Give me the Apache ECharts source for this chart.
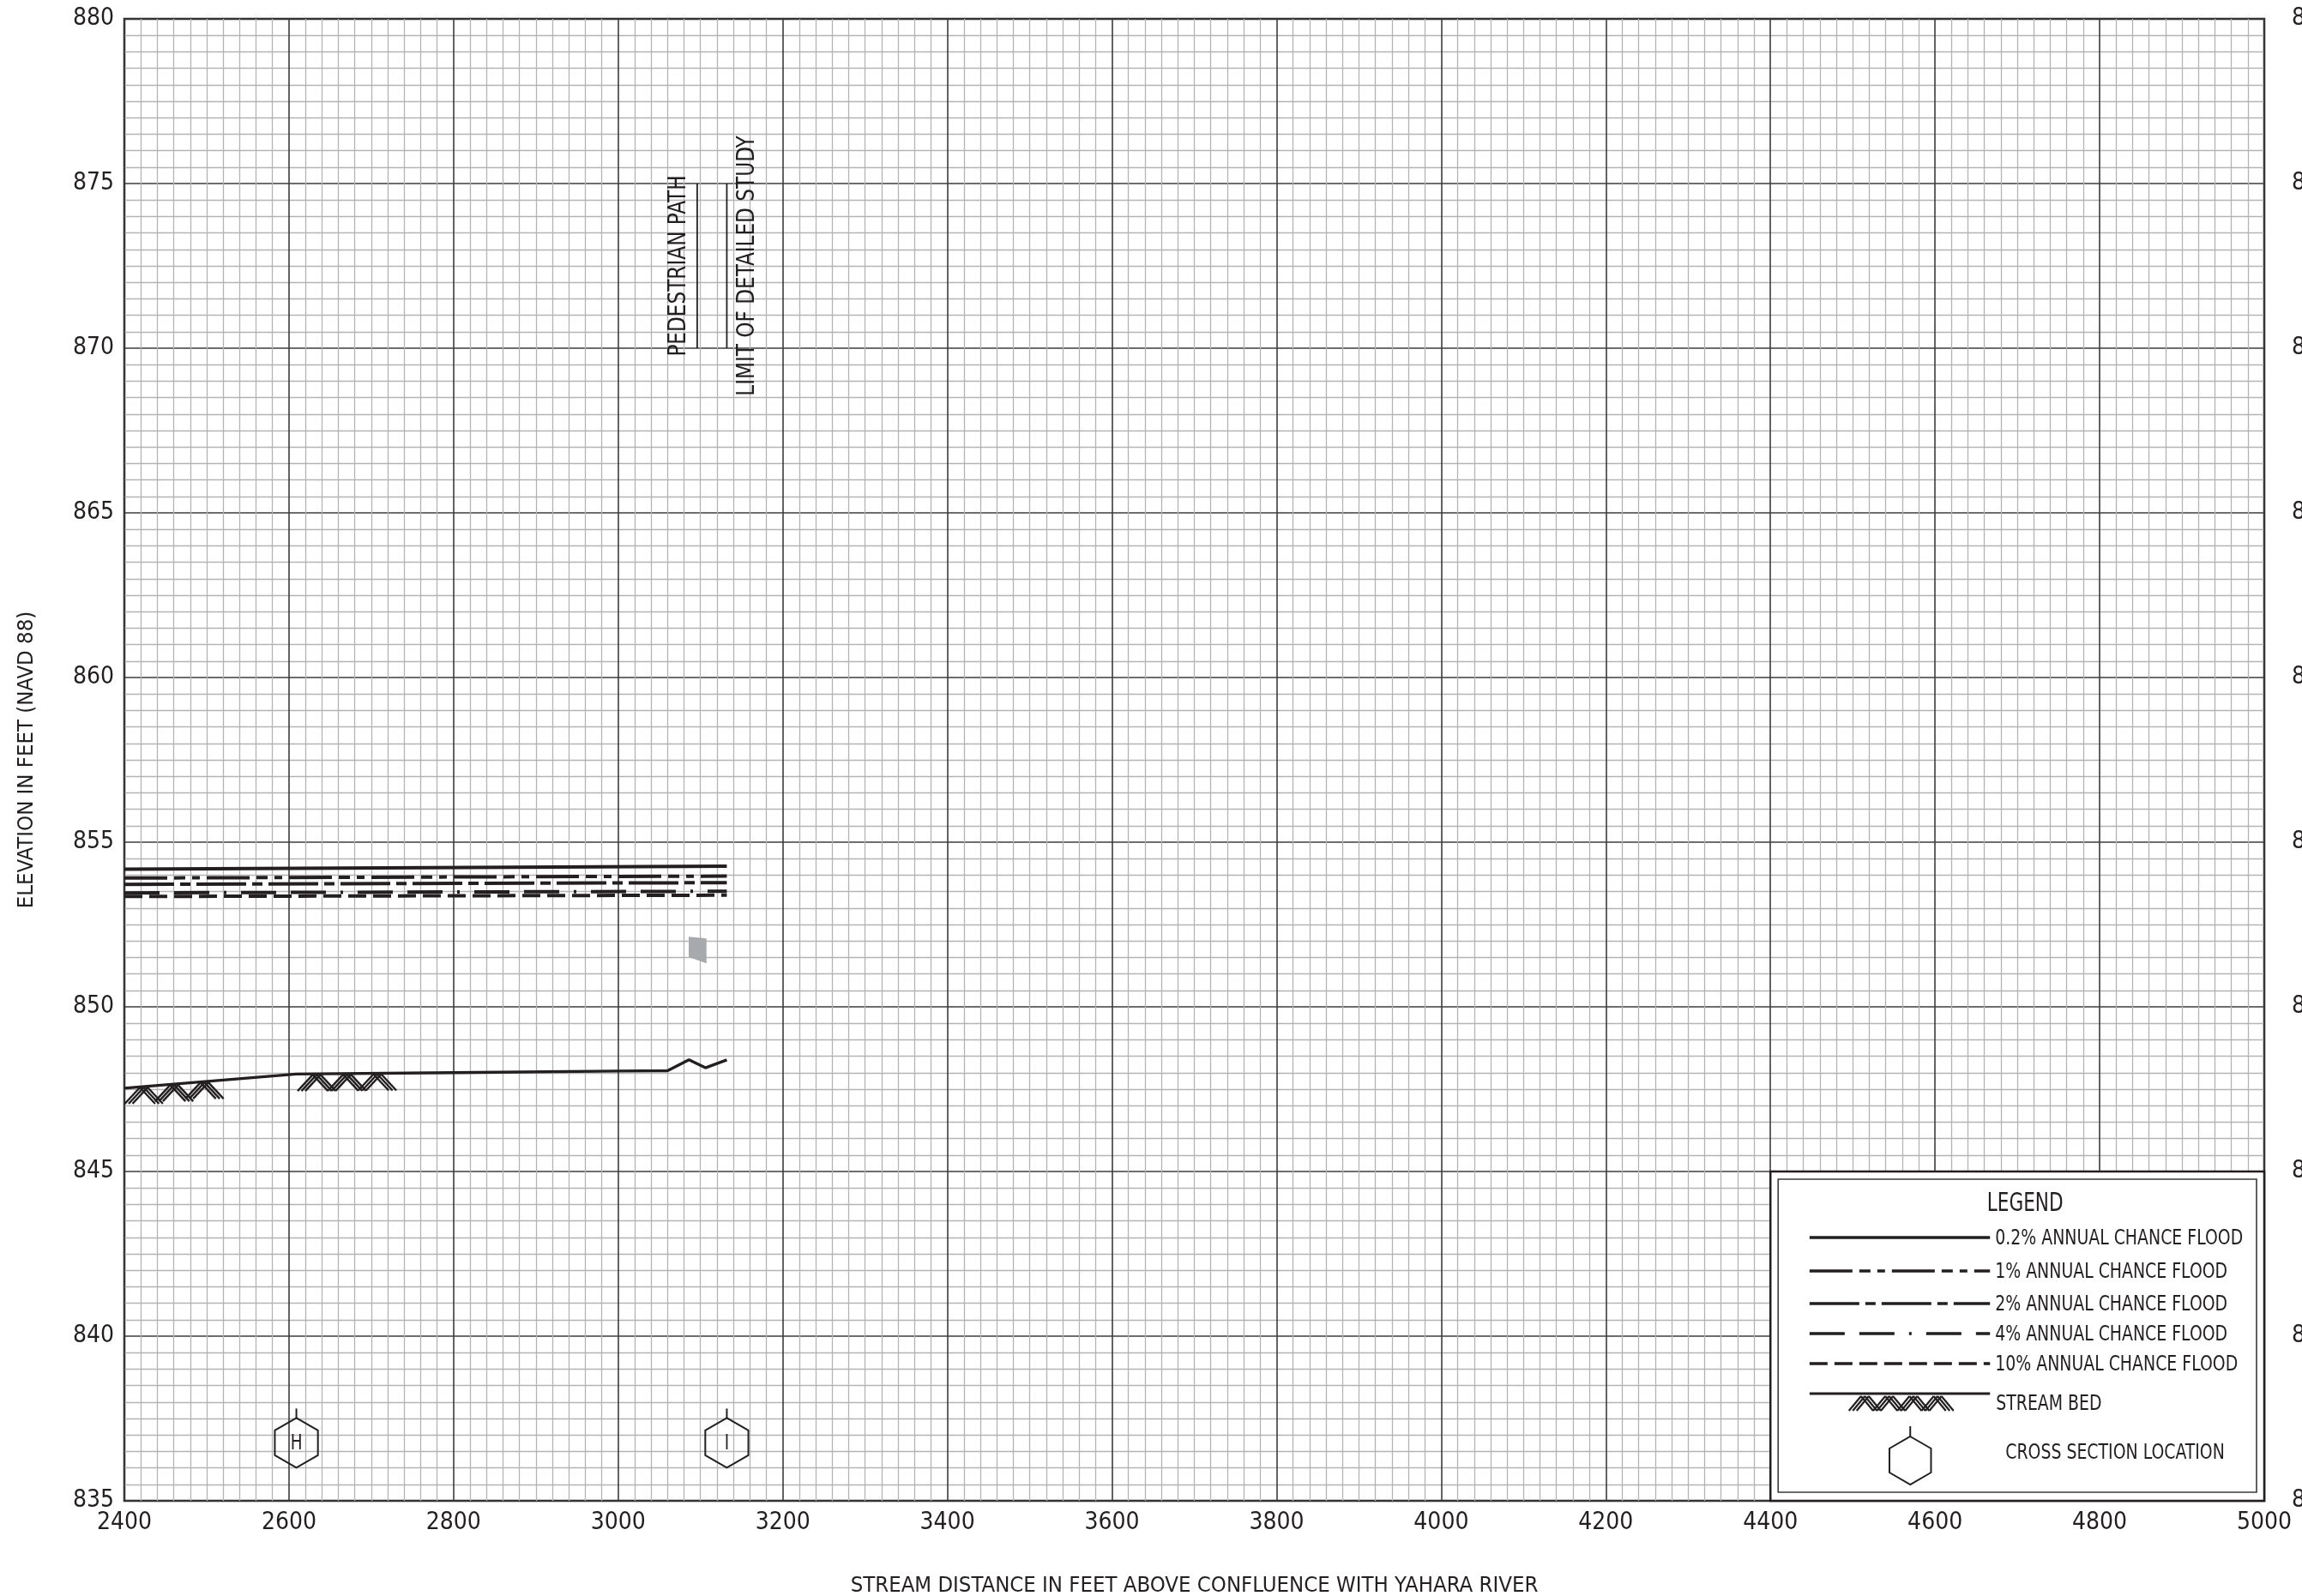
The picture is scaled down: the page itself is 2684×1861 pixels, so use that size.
<!DOCTYPE html>
<html><head><meta charset="utf-8">
<script src="https://cdn.jsdelivr.net/npm/echarts@6/dist/echarts.min.js"></script>
<style>html,body{margin:0;padding:0;background:#fff}#c{width:2684px;height:1861px}</style>
</head><body><div id="c"></div>
<script>
const FONT = "'Liberation Sans Narrow','DejaVu Sans Condensed',sans-serif";
const INK = '#231f20';

// ---- data ----
const floodX = [2400, 3132];
const flood02 = [854.18, 854.27];
const flood1 = [853.91, 853.97];
const flood2 = [853.72, 853.77];
const flood4 = [853.46, 853.51];
const flood10 = [853.35, 853.39];

const bedX = [2400, 2609, 2800, 3000, 3060, 3086, 3106, 3132];
const bedY = [847.53, 847.96, 848.00, 848.05, 848.06, 848.39, 848.15, 848.39];

const hatchStart = [2400, 2610];
const hatchEnd = [2521, 2731];

const xsX = [2609, 3132];
const xsY = [836.76, 836.76];
const xsLabel = ['H', 'I'];

const structX = [3096, 3132];
const structY0 = [870, 870];
const structY1 = [875, 875];
const structLabel = ['PEDESTRIAN PATH', 'LIMIT OF DETAILED STUDY'];
const structSide = [-1, 1];

const patchX = [3085.7, 3107.3, 3107.3, 3085.7];
const patchY = [852.13, 852.08, 851.32, 851.51];

const xMin = 2400, xMax = 5000, xStep = 200;
const yMin = 835, yMax = 880, yStep = 5;

const legendTitle = 'LEGEND';
const floodNames = ['0.2% ANNUAL CHANCE FLOOD', '1% ANNUAL CHANCE FLOOD', '2% ANNUAL CHANCE FLOOD', '4% ANNUAL CHANCE FLOOD', '10% ANNUAL CHANCE FLOOD'];
const bedName = 'STREAM BED';
const xsName = 'CROSS SECTION LOCATION';

// ---- styles ----
const dashes = ['solid', [50, 8, 13, 8, 9, 8], [58, 7, 12, 7], [41, 17, 41, 17, 3, 17], [21, 8]];
const floodSets = [flood02, flood1, flood2, flood4, flood10];

function bedAt(x) {
  for (let i = 0; i < bedX.length - 1; i++) {
    if (x >= bedX[i] && x <= bedX[i + 1]) {
      const t = (x - bedX[i]) / (bedX[i + 1] - bedX[i]);
      return bedY[i] + t * (bedY[i + 1] - bedY[i]);
    }
  }
  return bedY[bedY.length - 1];
}

function hatchShapes(x0, x1, yTopFn, peaks, amp, lw) {
  const out = [];
  const leg = (x1 - x0) / (peaks * 2);
  const offs = [-4.5, 0, 4.5];
  for (let k = 0; k < peaks; k++) {
    const xa = x0 + k * 2 * leg, xp = xa + leg, xb = xp + leg;
    const yp = yTopFn(xp);
    for (const o of offs) {
      out.push({ type: 'line', shape: { x1: xa + o, y1: yp + amp, x2: xp + o, y2: yp }, style: { stroke: INK, lineWidth: lw } });
      out.push({ type: 'line', shape: { x1: xp + o, y1: yp, x2: xb + o, y2: yp + amp }, style: { stroke: INK, lineWidth: lw } });
    }
  }
  return out;
}

const chart = echarts.init(document.getElementById('c'), null, { renderer: 'canvas' });

const series = floodSets.map((vals, i) => ({
  type: 'line',
  name: floodNames[i],
  data: floodX.map((x, j) => [x, vals[j]]),
  symbol: 'none',
  lineStyle: { color: INK, width: 4, type: dashes[i], cap: 'butt' },
  z: 5
}));

series.push({
  type: 'line', name: bedName,
  data: bedX.map((x, j) => [x, bedY[j]]),
  symbol: 'none',
  lineStyle: { color: INK, width: 3.4 },
  z: 5
});

series.push({
  type: 'custom', name: 'hatch',
  data: hatchStart.map((s, i) => [s, hatchEnd[i]]),
  renderItem: (params, api) => {
    const s = api.value(0), e = api.value(1);
    const p0 = api.coord([s, bedAt(s)]);
    const p1 = api.coord([e, bedAt(e)]);
    const pxToData = (px) => s + (px - p0[0]) / (p1[0] - p0[0]) * (e - s);
    const yTop = (px) => api.coord([pxToData(px), bedAt(pxToData(px))])[1] + 1;
    return { type: 'group', children: hatchShapes(p0[0] + 5, p1[0] - 5, yTop, 3, 19, 2.4) };
  },
  z: 4
});

series.push({
  type: 'custom', name: 'patch',
  data: [0],
  renderItem: (params, api) => {
    const pts = patchX.map((x, i) => api.coord([x, patchY[i]]));
    return { type: 'polygon', shape: { points: pts }, style: { fill: '#a7a9ac' } };
  },
  z: 4
});

series.push({
  type: 'custom', name: 'xs',
  data: xsX.map((x, i) => [x, xsY[i]]),
  renderItem: (params, api) => {
    const c = api.coord([api.value(0), api.value(1)]);
    const r = 29;
    const pts = [];
    for (let k = 0; k < 6; k++) {
      const a = (-90 + 60 * k) * Math.PI / 180;
      pts.push([c[0] + r * Math.cos(a), c[1] + r * Math.sin(a)]);
    }
    const lab = xsLabel[params.dataIndex];
    return {
      type: 'group', children: [
        { type: 'polygon', shape: { points: pts }, style: { fill: 'none', stroke: INK, lineWidth: 2 } },
        { type: 'line', shape: { x1: c[0], y1: c[1] - r, x2: c[0], y2: c[1] - r - 11 }, style: { stroke: INK, lineWidth: 2 } },
        { type: 'text', x: c[0], y: c[1] + 1, scaleX: 0.85, style: { text: lab, fontFamily: FONT, fontSize: 24, fill: INK, align: 'center', verticalAlign: 'middle' } }
      ]
    };
  },
  z: 6
});

series.push({
  type: 'custom', name: 'struct',
  data: structX.map((x, i) => [x, structY0[i], structY1[i]]),
  renderItem: (params, api) => {
    const i = params.dataIndex;
    const a = api.coord([api.value(0), api.value(1)]);
    const b = api.coord([api.value(0), api.value(2)]);
    const side = structSide[i];
    const off = side < 0 ? -21.5 : 24;
    return {
      type: 'group', children: [
        { type: 'line', shape: { x1: a[0], y1: a[1], x2: b[0], y2: b[1] }, style: { stroke: INK, lineWidth: 1.8 } },
        { type: 'text', x: a[0] + off, y: (a[1] + b[1]) / 2, rotation: Math.PI / 2, scaleX: 0.92,
          style: { text: structLabel[i], fontFamily: FONT, fontSize: 28, fill: INK, align: 'center', verticalAlign: 'middle' } }
      ]
    };
  },
  z: 6
});

const axisLabelStyle = { color: INK, fontFamily: FONT, fontSize: 28, formatter: (v) => String(v) };

chart.setOption({
  animation: false,
  backgroundColor: '#fff',
  grid: { left: 145, top: 22, right: 44, bottom: 111, show: true, borderColor: INK, borderWidth: 2.5, containLabel: false, outerBoundsMode: 'none' },
  xAxis: {
    type: 'value', min: xMin, max: xMax, interval: xStep,
    name: 'STREAM DISTANCE IN FEET ABOVE CONFLUENCE WITH YAHARA RIVER',
    nameLocation: 'middle', nameGap: 86,
    nameTextStyle: { color: INK, fontFamily: FONT, fontSize: 25.5 },
    axisLine: { show: false }, axisTick: { show: false },
    axisLabel: Object.assign({ margin: 12 }, axisLabelStyle),
    splitLine: { show: true, lineStyle: { color: '#3c3c3c', width: 1.6 } },
    minorTick: { show: false, splitNumber: 10 },
    minorSplitLine: { show: true, lineStyle: { color: '#b4b4b4', width: 1.3 } }
  },
  yAxis: [{
    type: 'value', min: yMin, max: yMax, interval: yStep,
    name: 'ELEVATION IN FEET (NAVD 88)',
    nameLocation: 'middle', nameGap: 101, nameRotate: 90,
    nameTextStyle: { color: INK, fontFamily: FONT, fontSize: 25.5 },
    axisLine: { show: false }, axisTick: { show: false },
    axisLabel: Object.assign({ margin: 12 }, axisLabelStyle),
    splitLine: { show: true, lineStyle: { color: '#3c3c3c', width: 1.6 } },
    minorTick: { show: false, splitNumber: 10 },
    minorSplitLine: { show: true, lineStyle: { color: '#b4b4b4', width: 1.3 } }
  }, {
    type: 'value', min: yMin, max: yMax, interval: yStep, position: 'right',
    axisLine: { show: false }, axisTick: { show: false },
    axisLabel: Object.assign({ margin: 32 }, axisLabelStyle),
    splitLine: { show: false }
  }],
  series: series
});

// ---- legend box (layout element anchored on the grid cell 4400..5000 x 835..845) ----
const tl = chart.convertToPixel({ gridIndex: 0 }, [4400, 845]);
const br = chart.convertToPixel({ gridIndex: 0 }, [5000, 835]);
const L = tl[0], T = tl[1], W = br[0] - L, H = br[1] - T;
const g = [];
const txt = (x, y, text, size, sx, align) => ({ type: 'text', x: x, y: y, scaleX: sx, z: 21,
  style: { text: text, fontFamily: FONT, fontSize: size, fill: INK, align: align, verticalAlign: 'middle' } });
g.push({ type: 'rect', shape: { x: L, y: T, width: W, height: H }, style: { fill: '#fff', stroke: INK, lineWidth: 2.5 }, z: 20 });
g.push({ type: 'rect', shape: { x: L + 9, y: T + 9, width: W - 18, height: H - 19 }, style: { fill: 'none', stroke: '#3a3a3a', lineWidth: 1.6 }, z: 21 });
g.push(txt(L + 297, T + 38, legendTitle, 30, 0.8, 'center'));
const rows = [77, 116, 154, 189, 224];
rows.forEach((ry, i) => {
  g.push({ type: 'line', shape: { x1: L + 45.6, y1: T + ry, x2: L + 256, y2: T + ry },
    style: { stroke: INK, lineWidth: 3.5, lineDash: dashes[i] === 'solid' ? null : dashes[i] }, z: 21 });
  g.push(txt(L + 262, T + ry + 1, floodNames[i], 25, 0.84, 'left'));
});
g.push({ type: 'line', shape: { x1: L + 45.6, y1: T + 259, x2: L + 256, y2: T + 259 }, style: { stroke: INK, lineWidth: 3 }, z: 21 });
hatchShapes(L + 96, L + 209, () => T + 262, 4, 17, 2.2).forEach(s => { s.z = 21; g.push(s); });
g.push(txt(L + 263, T + 271, bedName, 25, 0.84, 'left'));
const hc = [L + 163, T + 337], hr = 28;
const hp = [];
for (let k = 0; k < 6; k++) { const a = (-90 + 60 * k) * Math.PI / 180; hp.push([hc[0] + hr * Math.cos(a), hc[1] + hr * Math.sin(a)]); }
g.push({ type: 'polygon', shape: { points: hp }, style: { fill: 'none', stroke: INK, lineWidth: 2 }, z: 21 });
g.push({ type: 'line', shape: { x1: hc[0], y1: hc[1] - hr, x2: hc[0], y2: hc[1] - hr - 12 }, style: { stroke: INK, lineWidth: 2 }, z: 21 });
g.push(txt(L + 274, T + 328, xsName, 25, 0.84, 'left'));
chart.setOption({ graphic: g });
</script>
</body></html>
